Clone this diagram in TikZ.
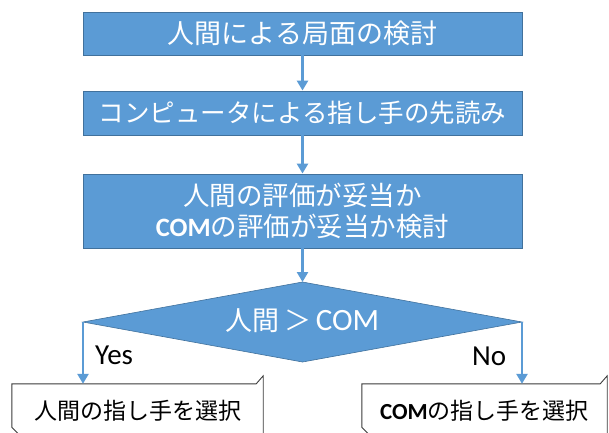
\documentclass[tikz,border=0pt]{standalone}
\usepackage{fontspec}
\setmainfont{Noto Sans CJK JP}
\newfontfamily\latf{Carlito}
\usetikzlibrary{arrows.meta}
\definecolor{fblue}{HTML}{5B9BD5}
\definecolor{bblue}{HTML}{41719C}
\definecolor{eline}{HTML}{3A3A3A}
\begin{document}
\begin{tikzpicture}[x=1pt,y=-1pt,
  bluebox/.style={draw=bblue,line width=0.9pt,fill=fblue,text=white,inner sep=0pt,
    minimum width=439pt,align=center},
  plainbox/.style={inner sep=0pt,minimum height=51pt},
  snip/.style={draw=eline,line width=0.9pt,fill=white},
  flow/.style={draw=fblue,line width=2.6pt,-{Triangle[width=11pt,length=10pt]}},
  lbl/.style={font=\latf\fontsize{29}{29}\selectfont,text=black,inner sep=0pt}]
\useasboundingbox (0,0) rectangle (609,432);
% boxes
\node[bluebox,minimum height=43pt,font=\fontsize{27}{27}\selectfont] (b1) at (302.5,33.5) {人間による局面の検討};
\node[bluebox,minimum height=44pt,font=\fontsize{25.5}{25.5}\selectfont] (b2) at (302.5,113) {コンピュータによる指し手の先読み};
\node[bluebox,minimum height=74pt,font=\fontsize{26.5}{31}\selectfont] (b3) at (302.5,211)
  {人間の評価が妥当か\\{\latf\bfseries COM}の評価が妥当か検討};
% decision diamond
\coordinate (dn) at (302.5,282);
\coordinate (dw) at (83,322);
\coordinate (de) at (522,322);
\coordinate (ds) at (302.5,362);
\draw[draw=bblue,line width=0.6pt,fill=fblue] (dn) -- (de) -- (ds) -- (dw) -- cycle;
\node[text=white,inner sep=0pt,font=\fontsize{27}{27}\selectfont] (d) at (302.5,321)
  {人間\,＞\,{\latf\fontsize{31}{31}\selectfont COM}};
% result boxes
\node[plainbox,minimum width=251pt] (lb) at (137.5,409.5) {};
\node[plainbox,minimum width=245pt] (rb) at (484.5,409.5) {};
\draw[snip] (lb.north west) -- ([xshift=-7pt]lb.north east) -- ([yshift=8pt]lb.north east)
  -- (lb.south east) -- ([xshift=8pt]lb.south west) -- ([yshift=8pt]lb.south west) -- cycle;
\draw[snip] (rb.north west) -- ([xshift=-7pt]rb.north east) -- ([yshift=8pt]rb.north east)
  -- (rb.south east) -- ([xshift=8pt]rb.south west) -- ([yshift=8pt]rb.south west) -- cycle;
\node[font=\fontsize{23}{23}\selectfont,inner sep=0pt] (lt) at ([yshift=-1.5pt]lb.center) {人間の指し手を選択};
\node[font=\fontsize{23}{23}\selectfont,inner sep=0pt] (rt) at ([yshift=-1.5pt]rb.center) {{\latf\bfseries COM}の指し手を選択};
% connectors
\draw[flow] (b1) -- (b2);
\draw[flow] (b2) -- (b3);
\draw[flow] (b3) -- (dn);
\draw[flow] (dw) -- (dw |- lb.north);
\draw[flow] (de) -- (de |- rb.north);
% labels
\node[lbl,anchor=base west] (yes) at (95,364) {Yes};
\node[lbl,anchor=base west] (no) at (472,365) {No};
\end{tikzpicture}
\end{document}
